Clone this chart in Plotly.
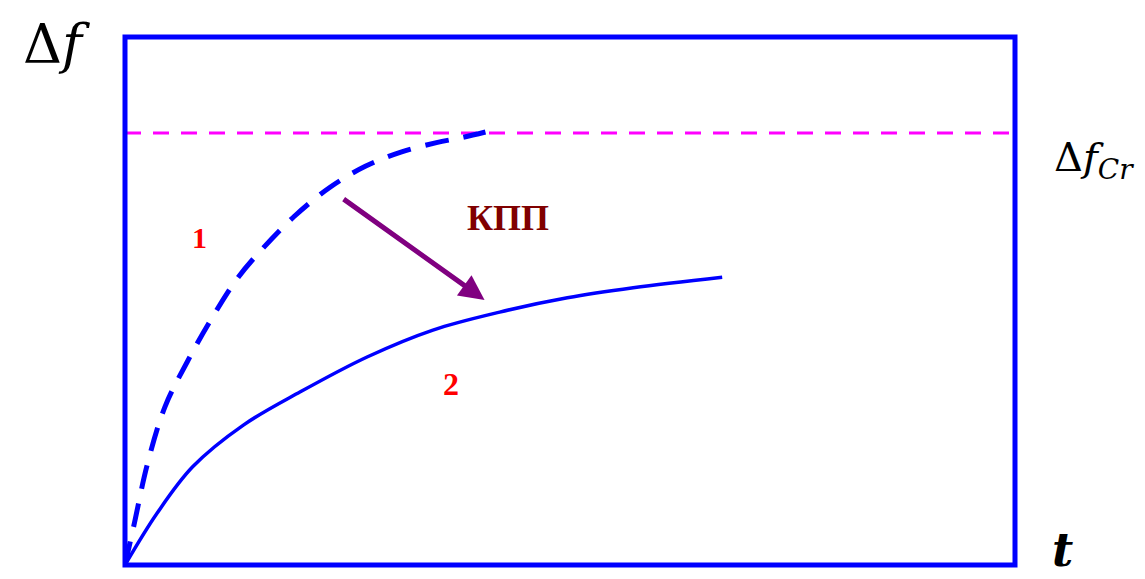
import plotly.graph_objects as go

# Curve 1 (dashed): fast growth reaching the critical level
t1 = [0, 0.1, 0.25, 0.45, 0.7, 0.95, 1.25, 1.55, 1.9, 2.3, 2.7, 3.1, 3.5, 3.8, 4.05]
f1 = [0, 0.75, 1.9, 3.0, 3.85, 4.6, 5.4, 6.0, 6.6, 7.15, 7.55, 7.82, 8.0, 8.1, 8.2]

# Curve 2 (solid): slower growth
t2 = [0, 0.36, 0.76, 1.33, 1.97, 2.72, 3.46, 4.21, 4.97, 5.71, 6.71]
f2 = [0, 0.98, 1.86, 2.65, 3.28, 3.94, 4.45, 4.79, 5.06, 5.25, 5.45]

f_cr = 8.18
x_max = 10
y_max = 10

# Arrow (КПП effect)
arrow_tail = (2.44, 6.95)
arrow_head = (4.04, 5.02)

fig = go.Figure()

fig.add_trace(go.Scatter(x=[0, x_max], y=[f_cr, f_cr], mode="lines",
                         line=dict(color="#FF00FF", width=3, dash="16px,12px"),
                         hoverinfo="skip"))
fig.add_trace(go.Scatter(x=t1, y=f1, mode="lines", line_shape="spline",
                         line=dict(color="#0000FF", width=5, dash="24px,15px"),
                         hoverinfo="skip"))
fig.add_trace(go.Scatter(x=t2, y=f2, mode="lines", line_shape="spline",
                         line=dict(color="#0000FF", width=3.5, smoothing=1),
                         hoverinfo="skip"))

fig.add_shape(type="rect", x0=0, x1=1, y0=0, y1=1, xref="paper", yref="paper",
              line=dict(color="#0000FF", width=5), layer="above")

serif = "Liberation Serif, Times New Roman, DejaVu Serif, serif"
serif_math = "DejaVu Serif, Liberation Serif, serif"

fig.add_annotation(x=arrow_head[0], y=arrow_head[1], ax=arrow_tail[0], ay=arrow_tail[1],
                   xref="x", yref="y", axref="x", ayref="y", text="", showarrow=True,
                   arrowhead=2, arrowsize=1, arrowwidth=5, arrowcolor="#800080")

fig.add_annotation(x=-0.0775, y=0.9867, xref="paper", yref="paper", text="Δ<i>f</i>",
                   xanchor="center", yanchor="middle", showarrow=False,
                   font=dict(family=serif_math, size=54, color="black"))
fig.add_annotation(x=1.0416, y=0.767, xref="paper", yref="paper", xanchor="left",
                   yanchor="middle", text="Δ<i>f</i><sub><i>Cr</i></sub>", showarrow=False,
                   font=dict(family=serif_math, size=40, color="black"))
fig.add_annotation(x=1.053, y=-0.0265, xref="paper", yref="paper", text="<b><i>t</i></b>",
                   xanchor="center", yanchor="bottom", showarrow=False,
                   font=dict(family=serif_math, size=46, color="black"))
fig.add_annotation(x=0.84, y=6.21, xref="x", yref="y", text="<b>1</b>", showarrow=False,
                   font=dict(family=serif, size=30, color="#FF0000"))
fig.add_annotation(x=3.66, y=3.43, xref="x", yref="y", text="<b>2</b>", showarrow=False,
                   font=dict(family=serif, size=32, color="#FF0000"))
fig.add_annotation(x=4.30, y=6.57, xref="x", yref="y", text="<b>КПП</b>", showarrow=False,
                   font=dict(family=serif, size=36, color="#800000"))

fig.update_layout(
    width=1137, height=571,
    margin=dict(l=117, r=130, t=29, b=14),
    paper_bgcolor="white", plot_bgcolor="white",
    showlegend=False,
    xaxis=dict(range=[0, x_max], visible=False, fixedrange=True),
    yaxis=dict(range=[0, y_max], visible=False, fixedrange=True),
)

fig.write_html("out.html", config={"displayModeBar": False})
